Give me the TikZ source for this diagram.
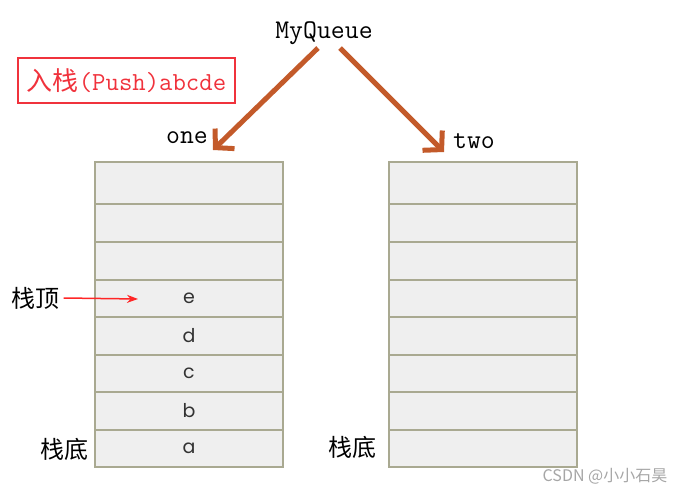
\documentclass[tikz,border=0pt]{standalone}
\usepackage{fontspec}
\usetikzlibrary{arrows.meta,positioning}
\newfontfamily\cjkfont{Noto Sans CJK SC}
\newfontfamily\cellfont{Poppins}
\definecolor{pushred}{HTML}{F0323C}
\definecolor{qbrown}{HTML}{C35A2A}
\definecolor{cellgray}{HTML}{EFEFEF}
\definecolor{celledge}{HTML}{A9A991}

\begin{document}
\begin{tikzpicture}[x=1pt,y=-1pt,
  cell/.style={draw=celledge,fill=cellgray,line width=1.2pt,minimum width=188pt,inner sep=0pt,
    font=\cellfont\fontsize{19}{19}\selectfont,text=black!80},
  tt/.style={font=\ttfamily\fontsize{27}{27}\selectfont},
  cjk/.style={font=\cjkfont\fontsize{24}{24}\selectfont},
  qarrow/.style={draw=qbrown,line width=5pt,-{Straight Barb[length=13pt,width=28pt]}},
  toparrow/.style={draw=red!85!white,line width=1.5pt,-{Stealth[length=11pt,width=8pt]}}]
    \useasboundingbox (0,0) rectangle (689,495);
    % two stacks
    \foreach \i/\ya/\yb/\lbl in {1/162/204/{},2/204/242/{},3/242/280/{},4/280/317/e,5/317/355/d,6/355/392/c,7/392/430/b,8/430/467/a}{
      \node[cell,minimum height={(\yb-\ya)*1pt}] (one\i) at (189,{(\ya+\yb)/2}) {\lbl};
      \node[cell,minimum height={(\yb-\ya)*1pt}] (two\i) at (483,{(\ya+\yb)/2}) {};
    }
    \node[tt] (mq) at (324,33) {MyQueue};
    \node[tt] (one) at (187,138) {one};
    \node[tt] (two) at (474,141) {two};
    \node[draw=pushred,line width=2pt,text=pushred,minimum width=217pt,minimum height=45pt,
      font=\ttfamily\fontsize{26}{26}\selectfont] (push) at (126.5,80.5) {{\cjkfont 入栈}(Push)abcde};
    \coordinate (oneTip) at (213,150);
    \coordinate (twoTip) at (444,152);
    \draw[qarrow] ([xshift=-6pt]mq.south) -- (oneTip);
    \draw[qarrow] ([xshift=16pt]mq.south) -- (twoTip);
    \node[cjk] (top) at (36,298) {栈顶};
    \coordinate (topTip) at (138,299);
    \draw[toparrow] (top.east) -- (topTip);
    \node[cjk] (bot1) at (64,449) {栈底};
    \node[cjk] (bot2) at (352,447) {栈底};
    \node[font=\cjkfont\fontsize{16}{16}\selectfont,text=gray!70] (mark) at (605,476) {CSDN @小小石昊};
\end{tikzpicture}
\end{document}
